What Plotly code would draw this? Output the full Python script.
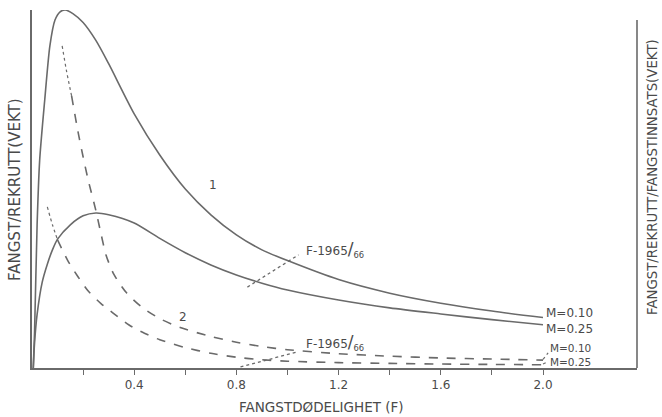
import plotly.graph_objects as go

# ---- data (F = fishing mortality; y = relative units) ----
F_yr_m10 = [0.005, 0.01, 0.02, 0.03, 0.05, 0.07, 0.09, 0.11, 0.13, 0.16, 0.20, 0.25, 0.30,
            0.40, 0.50, 0.60, 0.70, 0.80, 0.90, 1.00, 1.20, 1.40, 1.60, 1.80, 2.00]
yr_m10 = [0.0, 0.10, 0.40, 0.58, 0.75, 0.90, 0.972, 0.995, 1.0, 0.99, 0.965, 0.915, 0.85,
          0.71, 0.595, 0.50, 0.428, 0.372, 0.33, 0.30, 0.247, 0.209, 0.181, 0.159, 0.141]

F_yr_m25 = [0.005, 0.01, 0.02, 0.04, 0.06, 0.08, 0.10, 0.15, 0.20, 0.25, 0.30, 0.40, 0.50,
            0.60, 0.70, 0.80, 0.90, 1.00, 1.20, 1.40, 1.60, 1.80, 2.00]
yr_m25 = [0.0, 0.07, 0.15, 0.24, 0.29, 0.33, 0.36, 0.40, 0.425, 0.433, 0.428, 0.405, 0.362,
          0.322, 0.288, 0.260, 0.237, 0.218, 0.190, 0.168, 0.151, 0.135, 0.121]

F_yre_m10_dot = [0.118, 0.135, 0.155]
yre_m10_dot = [0.90, 0.83, 0.76]
F_yre_m10 = [0.155, 0.18, 0.20, 0.22, 0.25, 0.27, 0.29, 0.32, 0.37, 0.43, 0.50, 0.58, 0.70, 0.80,
             0.90, 1.00, 1.20, 1.40, 1.60, 1.80, 2.00]
yre_m10 = [0.76, 0.66, 0.59, 0.525, 0.44, 0.375, 0.315, 0.262, 0.21, 0.17, 0.138, 0.113, 0.088, 0.072,
           0.06, 0.051, 0.04, 0.033, 0.028, 0.025, 0.022]

F_yre_m25_dot = [0.06, 0.08, 0.10]
yre_m25_dot = [0.45, 0.40, 0.358]
F_yre_m25 = [0.10, 0.14, 0.18, 0.22, 0.27, 0.32, 0.38, 0.44, 0.50, 0.60, 0.70, 0.80, 0.90,
             1.00, 1.20, 1.40, 1.60, 1.80, 2.00]
yre_m25 = [0.358, 0.30, 0.255, 0.215, 0.18, 0.152, 0.12, 0.097, 0.079, 0.057, 0.041, 0.030, 0.023,
           0.019, 0.015, 0.013, 0.011, 0.010, 0.009]

# F-1965/66 marker lines
f6566_upper_x = [0.843, 1.043]
f6566_upper_y = [0.226, 0.316]
f6566_lower_x = [0.816, 1.039]
f6566_lower_y = [0.003, 0.045]

major_ticks = [0.4, 0.8, 1.2, 1.6, 2.0]
major_text = ["0.4", "0.8", "1.2", "1.6", "2.0"]
minor_ticks = [0.2, 0.6, 1.0, 1.4, 1.8]

LINE = "#6a6a6a"
TXT = "#4a4a4a"
FONT = "DejaVu Sans"

fig = go.Figure()

def add(x, y, dash="solid", width=1.6):
    fig.add_trace(go.Scatter(x=x, y=y, mode="lines",
                             line=dict(color=LINE, width=width, dash=dash, shape="spline", smoothing=0.7),
                             showlegend=False, hoverinfo="skip"))

add(F_yr_m10, yr_m10)
add(F_yr_m25, yr_m25)
add(F_yre_m10_dot, yre_m10_dot, dash="dot", width=1.2)
add(F_yre_m10, yre_m10, dash="dash")
add(F_yre_m25_dot, yre_m25_dot, dash="dot", width=1.2)
add(F_yre_m25, yre_m25, dash="dash")
add(f6566_upper_x, f6566_upper_y, dash="dot", width=1.3)
add(f6566_lower_x, f6566_lower_y, dash="dot", width=1.3)
# small leaders to lower M labels
add([2.0, 2.02], [0.024, 0.042], dash="dot", width=1.2)
add([2.0, 2.015], [0.011, 0.016], dash="dot", width=1.2)

def label(t, x, y, size=12, anchor="left"):
    fig.add_annotation(text=t, x=x, y=y, xref="x", yref="y", showarrow=False,
                       xanchor=anchor, yanchor="middle", font=dict(family=FONT, size=size, color=TXT))

label("1", 0.71, 0.51, anchor="center")
label("2", 0.59, 0.143, anchor="center")
label("M=0.10", 2.005, 0.153, 12)
label("M=0.25", 2.005, 0.11, 12)
label("M=0.10", 2.02, 0.055, 10.5)
label("M=0.25", 2.02, 0.017, 10.5)

f_label = "F-1965<span style='font-size:17px'>/</span><sub>66</sub>"
label(f_label, 1.065, 0.33)
label(f_label, 1.065, 0.07)

# axis titles
fig.add_annotation(text="FANGSTDØDELIGHET (F)", xref="paper", yref="paper", x=(321 - 32) / 605, y=-39 / 358,
                   showarrow=False, xanchor="center", yanchor="middle", font=dict(family=FONT, size=13.5, color=TXT))
fig.add_annotation(text="FANGST/REKRUTT(VEKT)", xref="paper", yref="paper", x=-17 / 605, y=(368 - 190) / 358,
                   showarrow=False, textangle=-90, xanchor="center", yanchor="middle",
                   font=dict(family=FONT, size=15, color=TXT))
fig.add_annotation(text="FANGST/REKRUTT/FANGSTINNSATS(VEKT)", xref="paper", yref="paper", x=(652 - 32) / 605,
                   y=(368 - 177) / 358, showarrow=False, textangle=-90, xanchor="center", yanchor="middle",
                   font=dict(family=FONT, size=13.3, color=TXT))

# right axis line
fig.add_shape(type="line", xref="paper", yref="paper", x0=1, x1=1, y0=0, y1=(368 - 20) / 358,
              line=dict(color=LINE, width=1.6))

fig.update_layout(
    width=662, height=417, margin=dict(l=32, r=25, t=10, b=49),
    paper_bgcolor="white", plot_bgcolor="white",
    xaxis=dict(range=[0, 605 / 255.5], tickmode="array", tickvals=major_ticks, ticktext=major_text,
               ticks="outside", ticklen=5, tickcolor=LINE, tickwidth=1.4,
               minor=dict(tickmode="array", tickvals=minor_ticks, ticks="outside", ticklen=5,
                          tickcolor=LINE, tickwidth=1.4, showgrid=False),
               showline=True, linecolor=LINE, linewidth=1.6, showgrid=False,
               zeroline=False, tickfont=dict(family=FONT, size=12, color=TXT)),
    yaxis=dict(range=[0, 1.0], showticklabels=False, ticks="", showline=True, linecolor=LINE, linewidth=1.6,
               showgrid=False, zeroline=False),
)

fig.write_html("out.html")
